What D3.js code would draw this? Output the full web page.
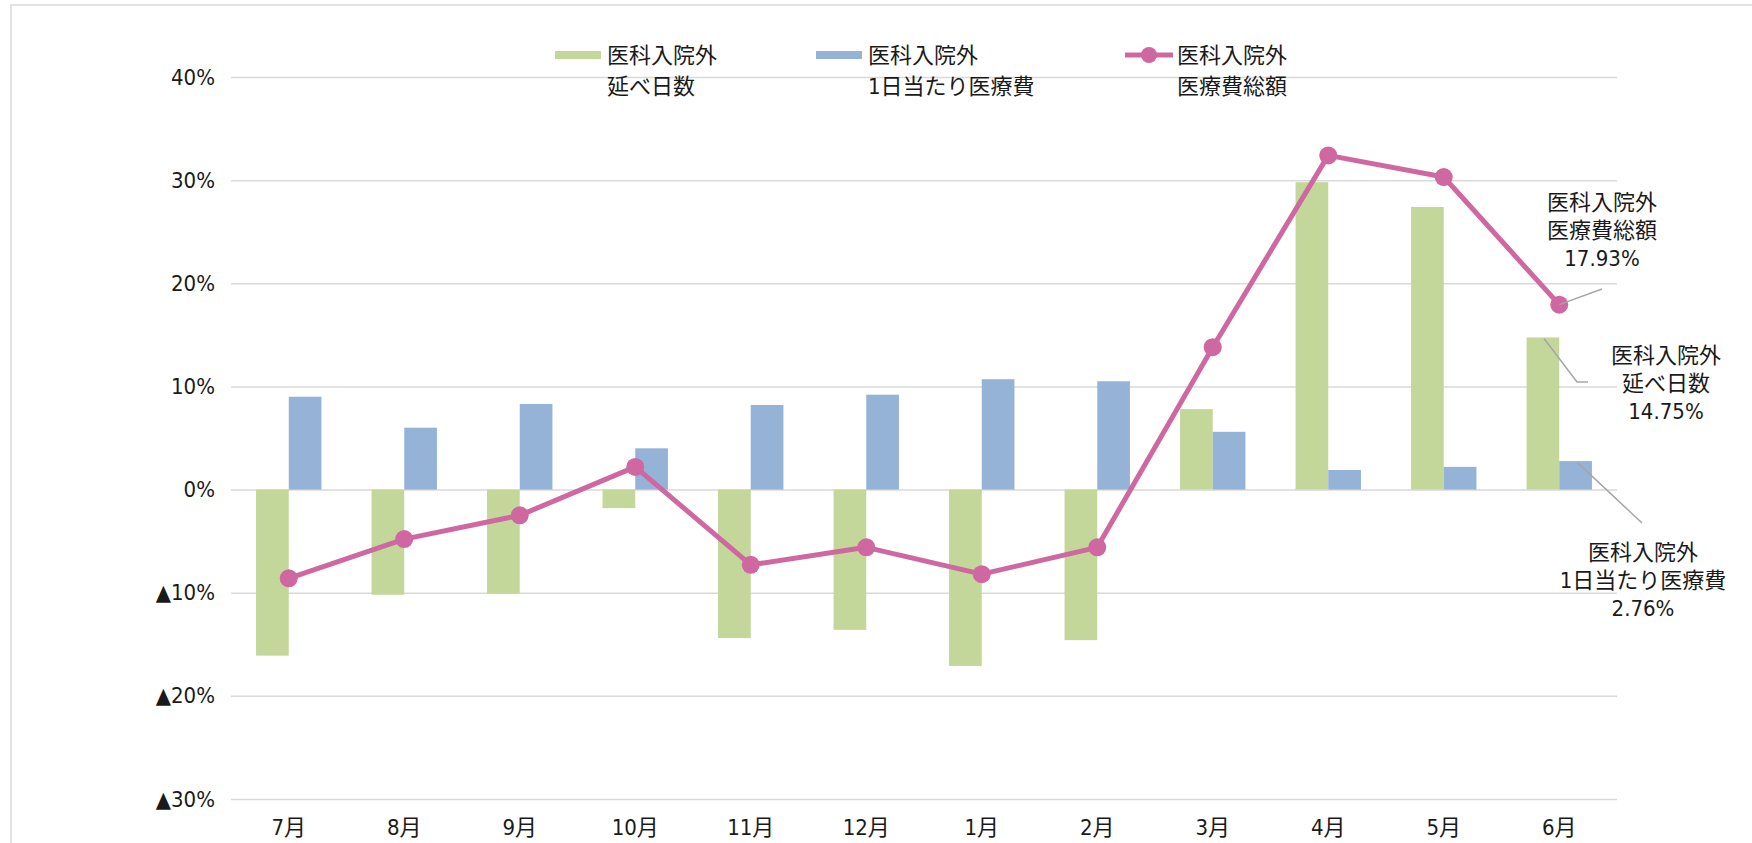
<!DOCTYPE html>
<html>
<head>
<meta charset="utf-8">
<script src="https://cdn.jsdelivr.net/npm/d3@7"></script>
<style>
  body { margin: 0; background: #fff; }
  svg text { font-family: "Liberation Sans Narrow", "DejaVu Sans Condensed", "Noto Sans CJK JP", sans-serif; fill: #1a1a1a; }
</style>
</head>
<body>
<svg id="chart" width="1752" height="843"></svg>
<script>
// months (July -> June)
const months = ['7月', '8月', '9月', '10月', '11月', '12月', '1月', '2月', '3月', '4月', '5月', '6月'];

// 医科入院外 延べ日数 (%)
const days = [-16.1, -10.2, -10.1, -1.8, -14.4, -13.6, -17.1, -14.6, 7.8, 29.8, 27.4, 14.75];
// 医科入院外 1日当たり医療費 (%)
const perDay = [9.0, 6.0, 8.3, 4.0, 8.2, 9.2, 10.7, 10.5, 5.6, 1.9, 2.2, 2.76];
// 医科入院外 医療費総額 (%)
const total = [-8.6, -4.8, -2.5, 2.2, -7.3, -5.6, -8.2, -5.6, 13.8, 32.4, 30.3, 17.93];

const yTicks = [-30, -20, -10, 0, 10, 20, 30, 40];

const legendItems = [
  { key: 'days', lines: ['医科入院外', '延べ日数'] },
  { key: 'perDay', lines: ['医科入院外', '1日当たり医療費'] },
  { key: 'total', lines: ['医科入院外', '医療費総額'] },
];

const colors = { days: '#c4d79b', perDay: '#95b3d7', total: '#cf68a1' };

const svg = d3.select('#chart');

// outer frame (runs off the right and bottom edges)
svg.append('rect')
  .attr('x', 11).attr('y', 5)
  .attr('width', 1800).attr('height', 900)
  .attr('fill', 'none')
  .attr('stroke', '#d9d9d9')
  .attr('stroke-width', 1.5);

const plotLeft = 231, plotRight = 1617, plotTop = 77, plotBottom = 799;

const x = d3.scaleBand().domain(months).range([plotLeft, plotRight]).padding(0);
const xSub = d3.scaleBand().domain(['days', 'perDay']).range([0, x.bandwidth()]).paddingOuter(0.766);
const y = d3.scaleLinear().domain([-30, 40]).range([plotBottom, plotTop]);

// y axis + gridlines
const yAxis = d3.axisLeft(y)
  .tickValues(yTicks)
  .tickSize(-(plotRight - plotLeft))
  .tickPadding(16)
  .tickFormat(d => (d < 0 ? '▲' + Math.abs(d) : d) + '%');

const gy = svg.append('g')
  .attr('transform', `translate(${plotLeft},0)`)
  .call(yAxis);
gy.select('.domain').remove();
gy.selectAll('.tick line').attr('stroke', '#d9d9d9').attr('stroke-width', 1.5);
gy.selectAll('.tick text').attr('font-size', 22).attr('fill', '#1a1a1a');

// x axis labels
const gx = svg.append('g')
  .attr('transform', `translate(0,${plotBottom})`)
  .call(d3.axisBottom(x).tickSize(0).tickPadding(20));
gx.select('.domain').remove();
gx.selectAll('.tick text').attr('font-size', 22).attr('fill', '#1a1a1a');

// bars
const rows = months.map((m, i) => ({ m, days: days[i], perDay: perDay[i], total: total[i] }));

['days', 'perDay'].forEach(key => {
  svg.append('g').selectAll('rect')
    .data(rows)
    .join('rect')
    .attr('x', d => x(d.m) + xSub(key))
    .attr('width', xSub.bandwidth())
    .attr('y', d => y(Math.max(0, d[key])))
    .attr('height', d => Math.abs(y(d[key]) - y(0)))
    .attr('fill', colors[key]);
});

// total line
const cx = d => x(d.m) + x.bandwidth() / 2;
const line = d3.line().x(cx).y(d => y(d.total));

svg.append('path')
  .datum(rows)
  .attr('d', line)
  .attr('fill', 'none')
  .attr('stroke', colors.total)
  .attr('stroke-width', 5)
  .attr('stroke-linejoin', 'round');

svg.append('g').selectAll('circle')
  .data(rows)
  .join('circle')
  .attr('cx', cx)
  .attr('cy', d => y(d.total))
  .attr('r', 9)
  .attr('fill', colors.total);

// legend
const legendX = [555, 816, 1125];
legendItems.forEach((item, i) => {
  const g = svg.append('g').attr('transform', `translate(${legendX[i]},55)`);
  if (item.key === 'total') {
    g.append('line').attr('x1', 0).attr('x2', 48).attr('y1', 0).attr('y2', 0)
      .attr('stroke', colors.total).attr('stroke-width', 5);
    g.append('circle').attr('cx', 24).attr('cy', 0).attr('r', 8).attr('fill', colors.total);
  } else {
    g.append('rect').attr('x', 0).attr('y', -4).attr('width', 46).attr('height', 8)
      .attr('fill', colors[item.key]);
  }
  g.selectAll('text')
    .data(item.lines)
    .join('text')
    .attr('x', 52)
    .attr('y', (d, j) => j * 31)
    .attr('dy', '0.36em')
    .attr('font-size', 22)
    .text(d => d);
});

// annotations for the last month
const last = rows[rows.length - 1];
const lastX = cx(last);
const fmt = v => v.toFixed(2) + '%';

const notes = [
  { lines: ['医科入院外', '医療費総額', fmt(last.total)], tx: 1602, ty: 202,
    path: [[lastX, y(last.total)], [1602, 289]] },
  { lines: ['医科入院外', '延べ日数', fmt(last.days)], tx: 1666, ty: 355,
    path: [[1544, y(last.days) + 1], [1577, 382], [1588, 382]] },
  { lines: ['医科入院外', '1日当たり医療費', fmt(last.perDay)], tx: 1643, ty: 552,
    path: [[1577, y(last.perDay) + 1], [1642, 523]] },
];

notes.forEach(n => {
  svg.append('path')
    .attr('d', d3.line()(n.path))
    .attr('fill', 'none')
    .attr('stroke', '#a6a6a6')
    .attr('stroke-width', 1.5);
  svg.append('g').selectAll('text')
    .data(n.lines)
    .join('text')
    .attr('x', n.tx)
    .attr('y', (d, j) => n.ty + j * 28)
    .attr('dy', '0.36em')
    .attr('text-anchor', 'middle')
    .attr('font-size', 22)
    .text(d => d);
});
</script>
</body>
</html>
